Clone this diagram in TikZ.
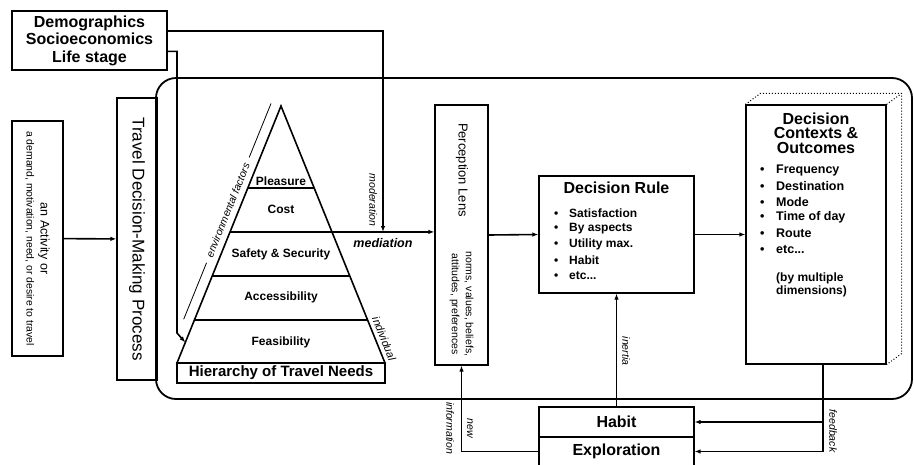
\documentclass[tikz,border=0pt]{standalone}
\usepackage{fontspec}
\setmainfont{Liberation Sans}
\usetikzlibrary{calc,arrows.meta}

\newcommand{\fs}[2]{\fontsize{#1}{#2}\selectfont}

\begin{document}
\begin{tikzpicture}[x=1pt,y=-1pt,>={Latex[length=6pt,width=4.5pt]},
    box/.style={draw, line width=1.2pt, inner sep=0pt},
    conn/.style={line width=1.6pt},
    lbl/.style={inner sep=0pt, font=\fs{10.5}{12}\itshape},
    item/.style={anchor=west, inner sep=0pt}]

    \useasboundingbox (0,0) rectangle (914,464);

    % Outer frame round the decision process
    \draw[line width=1.8pt, rounded corners=20pt] (156,78) rectangle (912,399);

    % Inputs on the left
    \node[box, minimum width=155pt, minimum height=59pt, align=center,
          font=\bfseries\fs{16}{17.5}] (demo) at (89.5,40.5)
          {Demographics\\Socioeconomics\\Life stage};
    \node[box, rotate=-90, minimum width=235pt, minimum height=51pt, align=center]
          (act) at (37.5,238.5)
          {\fs{12.5}{15}an Activity or\\[2pt]\fs{10.4}{12.5}a demand, motivation, need, or desire to travel};
    \node[box, rotate=-90, minimum width=282pt, minimum height=40pt,
          font=\fs{17}{20}] (tdmp) at (137,239) {Travel Decision-Making Process};

    % Pyramid of travel needs
    \coordinate (apex) at (281,106);
    \coordinate (bl) at (177,363);
    \coordinate (br) at (385,363);
    \draw[line width=1.6pt] (bl) -- (apex) -- (br) -- cycle;
    \foreach \f in {0.319,0.490,0.661,0.833}
        \draw[line width=1.3pt] ($(apex)!\f!(bl)$) -- ($(apex)!\f!(br)$);

    \node[font=\bfseries\fs{12}{14}] (pleas) at (281,181) {Pleasure};
    \node[font=\bfseries\fs{12}{14}] (cost) at (281,209) {Cost};
    \node[font=\bfseries\fs{12}{14}] (safe) at (281,254) {Safety \& Security};
    \node[font=\bfseries\fs{12}{14}] (access) at (281,297) {Accessibility};
    \node[font=\bfseries\fs{12}{14}] (feas) at (281,342) {Feasibility};
    \node[box, minimum width=208pt, minimum height=20pt,
          font=\bfseries\fs{15}{17}] (hier) at (281,373) {Hierarchy of Travel Needs};

    % Environmental factors along the left side
    \coordinate (ea) at ($(apex)+(-11,0)$);
    \coordinate (eb) at ($(bl)+(-11,0)$);
    \draw[line width=0.8pt] ($(ea)!-0.01!(eb)$) -- ($(ea)!0.2!(eb)$);
    \draw[line width=0.8pt] ($(ea)!0.61!(eb)$) -- ($(ea)!0.83!(eb)$);
    \node[lbl, rotate=68] (env) at ($(ea)!0.405!(eb)$) {environmental factors};
    \node[lbl, font=\fs{11}{13}\itshape, rotate=-68] (indiv)
          at ($(apex)!0.905!(br) + (9,0)$) {individual};

    % Perception lens
    \node[box, minimum width=53pt, minimum height=260pt] (lens) at (461.5,235) {};
    \node[rotate=-90, font=\fs{13}{15}] (lenst) at (462,170) {Perception Lens};
    \node[rotate=-90, align=center, font=\fs{10.5}{14}] (lensn) at (461.5,304)
          {norms, values, beliefs,\\attitudes, preferences};

    % Decision rule
    \node[box, minimum width=155pt, minimum height=117pt] (rule) at (616.5,234.5) {};
    \node[font=\bfseries\fs{16}{18}] (rulet) at (616.5,188) {Decision Rule};
    \foreach \t [count=\i] in {Satisfaction, By aspects, Utility max., Habit, etc.{}.{}.}
        \node[item, font=\bfseries\fs{12}{14}] at (554,197.3+15.7*\i)
              {\makebox[15pt][l]{\textbullet}\t};

    % Decision contexts and outcomes
    \node[box, minimum width=140pt, minimum height=259pt] (outc) at (816,234.5) {};
    \draw[dotted, line width=1pt] (outc.north west) -- ++(15,-11)
          -| ($(outc.south east)+(15,-11)$) -- (outc.south east);
    \draw[dotted, line width=1pt] (outc.north east) -- ++(15,-11);
    \node[align=center, font=\bfseries\fs{16}{14.5}] (outct) at (816,133)
          {Decision\\Contexts \&\\Outcomes};
    \foreach \t [count=\i] in {Frequency, Destination, Mode, Time of day, Route, etc.{}.{}.}
        \node[item, font=\bfseries\fs{12.5}{14}] at (760,154.2+15.8*\i)
              {\makebox[16pt][l]{\textbullet}\t};
    \node[item, align=left, font=\bfseries\fs{12}{13}] (dims) at (776,284.5)
          {(by multiple\\dimensions)};

    % Habit and exploration
    \node[box, minimum width=155pt, minimum height=30pt,
          font=\bfseries\fs{16}{18}] (habit) at (616.5,422) {Habit};
    \node[box, minimum width=155pt, minimum height=29pt,
          font=\bfseries\fs{16}{18}] (explo) at (616.5,451.5) {Exploration};

    % Connectors
    \coordinate (med) at ($(apex)!0.490!(br)$);
    \coordinate (mod) at (383,232);
    \coordinate (bend) at (177,333);
    \coordinate (hit) at ($(apex)!0.92!(bl)$);
    \coordinate (fb) at ($(outc.south)+(7,0)$);

    \draw[conn,->] (act) -- (tdmp);
    \draw[conn,->] ($(demo.north east)!0.34!(demo.south east)$) -| (mod);
    \draw[conn,->] ($(demo.north east)!0.68!(demo.south east)$) -| (bend) -- (hit);
    \draw[conn,->] (med) -- (med -| lens.west);
    \draw[conn,->] (lens.east) -- (rule.west);
    \draw[conn,->] (rule.east) -- (outc.west);
    \draw[conn,->] (habit.north) -- (rule.south);
    \draw[conn,->] (fb) |- (habit.east);
    \draw[conn,->] (fb) |- (explo.east);
    \draw[conn,->] (explo.west) -| (lens.south);

    % Connector labels
    \node[lbl, font=\bfseries\itshape\fs{12.5}{14}] (medlbl) at (383,243) {mediation};
    \node[lbl, rotate=-90] (modlbl) at (373,200) {moderation};
    \node[lbl, rotate=-90] (inlbl) at (626,351) {inertia};
    \node[lbl, rotate=-90] (fblbl) at (833,431) {feedback};
    \node[lbl, rotate=-90] (newlbl) at (470,428) {new};
    \node[lbl, rotate=-90] (infolbl) at (450,428) {information};

\end{tikzpicture}
\end{document}
